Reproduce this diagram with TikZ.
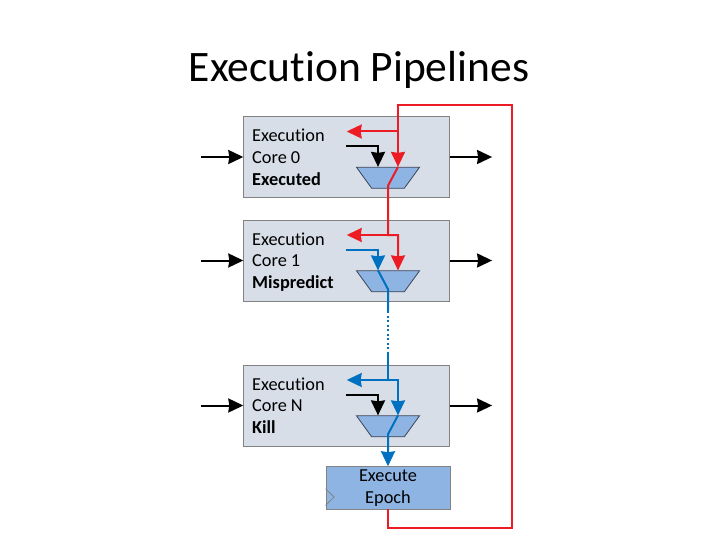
\documentclass[tikz,border=0pt]{standalone}
\usepackage{fontspec}
\setmainfont{Carlito}[Ligatures={NoCommon}]
\usetikzlibrary{shapes.geometric, arrows.meta, positioning, calc}

\definecolor{boxfill}{RGB}{215,222,232}
\definecolor{boxline}{RGB}{130,130,130}
\definecolor{muxfill}{RGB}{142,180,227}
\definecolor{muxline}{RGB}{60,68,86}
\definecolor{fbred}{RGB}{237,28,36}
\definecolor{epblue}{RGB}{0,112,192}

\begin{document}
\begin{tikzpicture}[x=1pt, y=-1pt,
    corebox/.style={draw=boxline, fill=boxfill, line width=0.8pt, minimum width=206pt, minimum height=81pt, inner sep=0pt},
    coretext/.style={font=\fontsize{18.3}{22}\selectfont, inner sep=0pt, anchor=base west},
    mux/.style={trapezium, trapezium angle=65, shape border rotate=180, trapezium stretches=true,
        minimum width=63pt, minimum height=21pt, inner sep=1pt, draw=muxline, fill=muxfill, line width=0.8pt},
    tip/.style={-{Stealth[length=15pt, width=14pt, inset=1pt]}},
    wire/.style={line width=2pt},
    blk/.style={wire, black},
    redw/.style={wire, fbred},
    bluew/.style={wire, epblue}]
  \useasboundingbox (0,0) rectangle (720,540);

  % Title
  \node[font=\fontsize{43.5}{50}\selectfont, anchor=base] (title) at (359,82) {Execution Pipelines};

  % Execution cores
  \foreach \name/\yc/\idx/\state in {core0/157/0/Executed, core1/260.5/1/Mispredict, coreN/405.5/N/Kill} {
    \node[corebox] (\name) at (346.7,\yc) {};
    \node[coretext] (\name-a) at (252,{\yc-15.4}) {Execution};
    \node[coretext] (\name-b) at (252,{\yc+6.3}) {Core \idx};
    \node[coretext, font=\fontsize{18.3}{22}\selectfont\bfseries] (\name-c) at (252,{\yc+28.3}) {\state};
    \node[mux] (\name-mux) at (388,{\yc+20.8}) {};
    \draw[blk, tip] ([xshift=-42pt]\name.west) -- (\name.west);
    \draw[blk, tip] (\name.east) -- ([xshift=42pt]\name.east);
    \coordinate (\name-fork) at (388,{\yc-25.5});
    \coordinate (\name-tip) at (346.7,{\yc-25.5});
    \coordinate (\name-ctl) at (346,{\yc-11});
  }

  % Epoch register
  \node[draw=boxline, fill=muxfill, line width=0.8pt, minimum width=124pt, minimum height=42.3pt,
        inner sep=0pt, align=center, font=\fontsize{18.3}{22}\selectfont] (epoch) at (388,487.8) {Execute\\Epoch};
  \draw[boxline, line width=0.8pt] ([yshift=4pt]epoch.south west) -- ++(8.5,-8.3) -- ++(-8.5,-8.3);

  % Feedback from the epoch
  \coordinate (fbB) at (512,528);
  \coordinate (fbT) at (512,105);
  \draw[redw, tip] (epoch.south) |- (fbB) -- (fbT) -| ([xshift=10pt]core0-mux.north);
  \draw[redw, tip] ([xshift=10pt]core0-fork) -- (core0-tip);
  \draw[blk, tip] (core0-ctl) -| ([xshift=-10pt]core0-mux.north);
  \draw[redw, tip] ([xshift=10pt]core0-mux.north) -- ([yshift=3pt]core0-mux.south) -- (core1-fork)
      -| ([xshift=10pt]core1-mux.north);
  \draw[redw, tip] (core1-fork) -- (core1-tip);

  % Mispredict path
  \coordinate (gapA) at (388,311);
  \coordinate (gapB) at (388,354);
  \draw[bluew, tip] (core1-ctl) -| ([xshift=-10pt]core1-mux.north);
  \draw[bluew] ([xshift=-10pt]core1-mux.north) -- ([yshift=3pt]core1-mux.south) -- (gapA);
  \draw[epblue, line width=2pt, dash pattern=on 2pt off 2.5pt] (gapA) -- (gapB);
  \draw[bluew, tip] (gapB) -- (coreN-fork) -| ([xshift=10pt]coreN-mux.north);
  \draw[bluew, tip] (coreN-fork) -- (coreN-tip);
  \draw[blk, tip] (coreN-ctl) -| ([xshift=-10pt]coreN-mux.north);
  \draw[bluew, tip] ([xshift=10pt]coreN-mux.north) -- ([yshift=3pt]coreN-mux.south) -- (epoch.north);
\end{tikzpicture}
\end{document}
